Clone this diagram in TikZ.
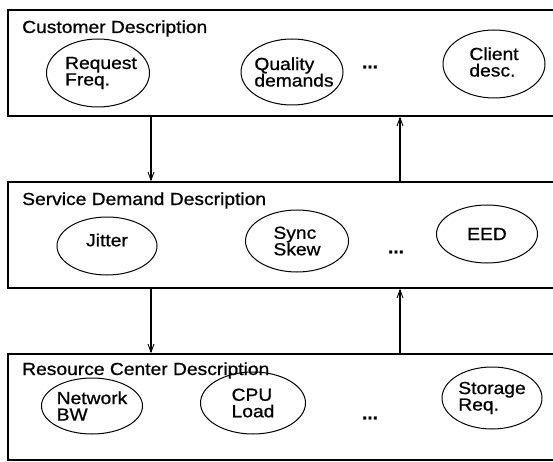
\documentclass[tikz,border=0pt]{standalone}
\usepackage{fontspec}
\setmainfont{Liberation Sans}[FakeStretch=1.1,FakeBold=0.8]
\usetikzlibrary{arrows.meta,shapes.geometric}
\begin{document}
\begin{tikzpicture}[x=1pt,y=-1pt,
  layer/.style={draw, line width=1.4pt, minimum width=552pt, minimum height=106pt, inner sep=0pt},
  layertitle/.style={anchor=base west, inner sep=0pt, font=\fontsize{17.5}{16}\selectfont},
  item/.style={draw, ellipse, line width=1pt, inner sep=0pt},
  itemtext/.style={inner sep=0pt, align=left, font=\fontsize{17.5}{16.5}\selectfont},
  more/.style={inner sep=0pt, font=\fontsize{17.5}{16}\selectfont\bfseries},
  flow/.style={line width=1.1pt, -{Straight Barb[length=8pt,width=6pt,line width=0.9pt]}}]
\useasboundingbox (0,0) rectangle (553,462);
\clip (0,0) rectangle (553,462);

% three description layers (right edges run past the page)
\node[layer] (cust) at (284,63) {};
\node[layer] (serv) at (284,235) {};
\node[layer] (res)  at (284,407) {};

\node[layertitle] (cust-t) at (22,33)  {Customer Description};
\node[layertitle] (serv-t) at (22,205) {Service Demand Description};
\node[layertitle] (res-t)  at (22,375) {Resource Center Description};

% customer layer items
\node[item, minimum width=103pt, minimum height=68pt] (req) at (98,73) {};
\node[itemtext] (req-t) at ([xshift=3pt]req) {Request\\Freq.};
\node[item, minimum width=102pt, minimum height=66pt] (qual) at (292,72) {};
\node[itemtext] (qual-t) at ([xshift=2pt]qual) {Quality\\demands};
\node[more] (cust-more) at (370,67) {...};
\node[item, minimum width=102pt, minimum height=68pt] (cli) at (494,64) {};
\node[itemtext] (cli-t) at ([yshift=2pt]cli) {Client\\desc.};

% service demand layer items
\node[item, minimum width=100pt, minimum height=58pt] (jit) at (107,246) {};
\node[itemtext] (jit-t) at ([yshift=6pt]jit) {Jitter};
\node[item, minimum width=103pt, minimum height=62pt] (sync) at (297,241) {};
\node[itemtext] (sync-t) at (sync) {Sync\\Skew};
\node[more] (serv-more) at (396,252) {...};
\node[item, minimum width=101pt, minimum height=58pt] (eed) at (487,234) {};
\node[itemtext] (eed-t) at (eed) {EED};

% resource center layer items
\node[item, minimum width=101pt, minimum height=56pt] (net) at (92,406) {};
\node[itemtext] (net-t) at (net) {Network\\BW};
\node[item, minimum width=105pt, minimum height=62pt] (cpu) at (253,403) {};
\node[itemtext] (cpu-t) at (cpu) {CPU\\Load};
\node[more] (res-more) at (370,418) {...};
\node[item, minimum width=100pt, minimum height=62pt] (sto) at (492,398) {};
\node[itemtext] (sto-t) at (sto) {Storage\\Req.};

% flows between layers
\coordinate (down) at (151,0);
\coordinate (up) at (400,0);
\draw[flow] (cust.south -| down) -- (serv.north -| down);
\draw[flow] (serv.north -| up) -- (cust.south -| up);
\draw[flow] (serv.south -| down) -- (res.north -| down);
\draw[flow] (res.north -| up) -- (serv.south -| up);
\end{tikzpicture}
\end{document}
